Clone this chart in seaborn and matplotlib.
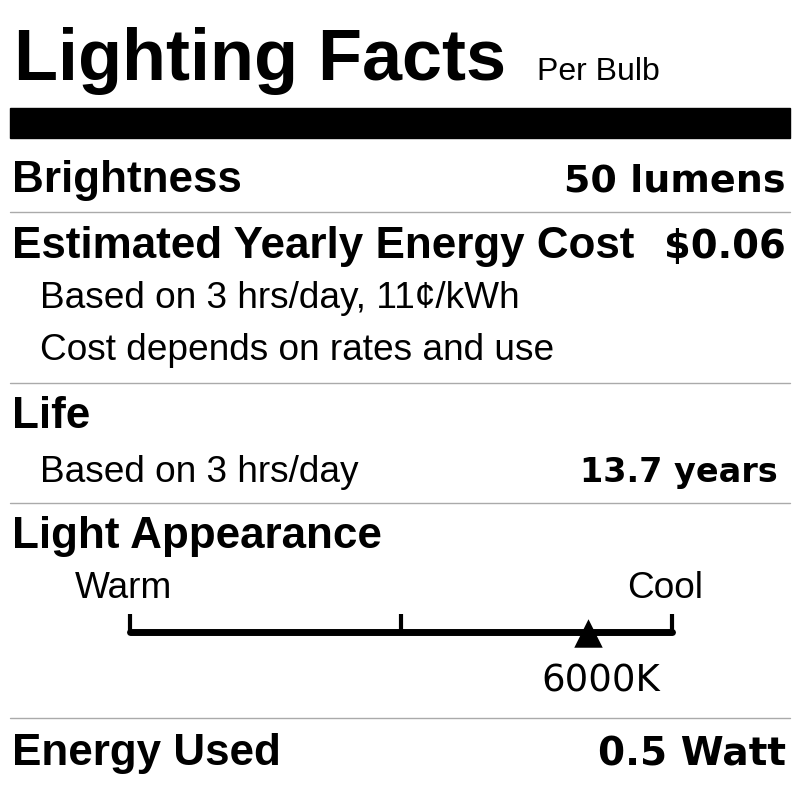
import numpy as np
import pandas as pd
import seaborn as sns
import matplotlib
matplotlib.use("Agg")
import matplotlib.pyplot as plt

# Label values
title = "Lighting Facts"
subtitle = "Per Bulb"
brightness = "50 lumens"
cost = "$0.06"
cost_notes = ["Based on 3 hrs/day, 11\u00a2/kWh", "Cost depends on rates and use"]
life_note = "Based on 3 hrs/day"
life = "13.7 years"
energy = "0.5 Watt"

# Light appearance scale (kelvin)
scale_ticks = [2700, 4600, 6500]
color_temp = 6000

sns.set_theme(style="white")
plt.rcParams["font.family"] = ["Liberation Sans", "DejaVu Sans"]
plt.rcParams["text.color"] = "black"

fig = plt.figure(figsize=(8, 8), dpi=100)
ax = fig.add_axes([0, 0, 1, 1])
ax.set_xlim(0, 800)
ax.set_ylim(800, 0)
ax.axis("off")

def pt(px):
    return px * 0.72

bold = dict(fontweight="bold", va="baseline")
num = dict(fontweight="bold", va="baseline", ha="right", family="DejaVu Sans")
body = dict(va="baseline", fontsize=pt(37))
rule = dict(color="#aaaaaa", lw=1)

ax.text(14, 80, title, fontsize=pt(72), fontweight="bold", va="baseline")
ax.text(537, 80, subtitle, fontsize=pt(32), va="baseline")
ax.add_patch(plt.Rectangle((10, 108), 780, 30, color="black"))

ax.text(12, 192, "Brightness", fontsize=pt(44), **bold)
ax.text(786, 192, brightness, fontsize=pt(38), **num)
ax.plot([10, 790], [212, 212], **rule)

ax.text(12, 258, "Estimated Yearly Energy Cost", fontsize=pt(44), **bold)
ax.text(786, 258, cost, fontsize=pt(38.5), **num)
ax.text(40, 308, cost_notes[0], **body)
ax.text(40, 360, cost_notes[1], **body)
ax.plot([10, 790], [383, 383], **rule)

ax.text(12, 428, "Life", fontsize=pt(44), **bold)
ax.text(40, 482, life_note, **body)
ax.text(778, 482, life, fontsize=pt(33.5), **num)
ax.plot([10, 790], [503, 503], **rule)

ax.text(12, 548, "Light Appearance", fontsize=pt(44), **bold)
ax.text(75, 598, "Warm", **body)
ax.text(703, 598, "Cool", ha="right", **body)
ax.plot([10, 790], [718, 718], **rule)

ax.text(12, 765, "Energy Used", fontsize=pt(44), **bold)
ax.text(786, 765, energy, fontsize=pt(39), **num)

# Scale axes: x from 130 px to 672 px
sax = fig.add_axes([130 / 800, 1 - 660 / 800, 542 / 800, 60 / 800])
sax.set_xlim(scale_ticks[0], scale_ticks[-1])
sax.set_ylim(0, 1)
sax.axis("off")
sax.patch.set_alpha(0)
line_df = pd.DataFrame({"k": [scale_ticks[0], scale_ticks[-1]], "y": [0.47, 0.47]})
sns.lineplot(data=line_df, x="k", y="y", ax=sax, color="black", lw=5, clip_on=False)
for k in scale_ticks:
    sax.plot([k, k], [0.47, 0.77], color="black", lw=3, clip_on=False,
             solid_capstyle="butt")
sns.scatterplot(x=[color_temp - 90], y=[0.45], marker="^", s=420, color="black",
                ax=sax, clip_on=False, linewidth=0)
sax.text(color_temp - 2, -0.53, f"{color_temp}K", fontsize=pt(37), ha="center",
         va="baseline", family="DejaVu Sans", color="black", transform=sax.transData)

fig.savefig("out.png", dpi=100)
